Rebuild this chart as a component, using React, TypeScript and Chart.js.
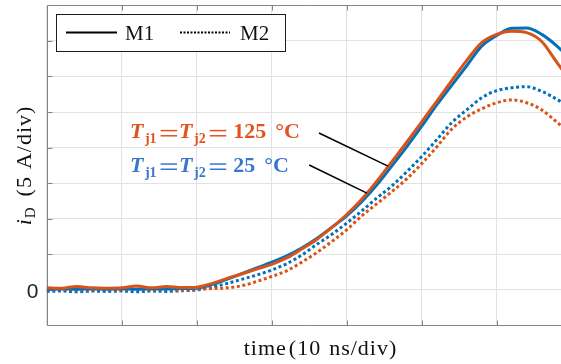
import { useEffect, useRef } from "react";
import { Chart, registerables } from "chart.js";

Chart.register(...registerables);

// time axis in divisions (10 ns/div)
const timeDiv = [
  0, 0.2, 0.4, 0.6, 0.8, 1.0, 1.2, 1.4, 1.6, 1.8, 2.0, 2.2, 2.4, 2.6, 2.8, 3.0, 3.2, 3.4,
  3.6, 3.8, 4.0, 4.2, 4.4, 4.6, 4.8, 5.0, 5.2, 5.4, 5.6, 5.8, 6.0, 6.2, 6.4, 6.6, 6.8, 7.0,
];

// drain current in divisions (5 A/div)
const m1At25 = [
  0.02, 0.03, 0.02, 0.03, 0.02, 0.03, 0.02, 0.03, 0.03, 0.04, 0.05, 0.15, 0.3, 0.46, 0.62, 0.78, 0.96, 1.18,
  1.45, 1.76, 2.08, 2.48, 2.95, 3.48, 4.02, 4.6, 5.2, 5.75, 6.3, 6.85, 7.15, 7.35, 7.36, 7.18, 6.86, 6.45,
];
const m1At125 = [
  0.06, 0.05, 0.1, 0.06, 0.05, 0.06, 0.11, 0.06, 0.1, 0.07, 0.08, 0.18, 0.32, 0.45, 0.59, 0.72, 0.9, 1.15,
  1.42, 1.75, 2.12, 2.55, 3.05, 3.6, 4.15, 4.72, 5.3, 5.88, 6.45, 6.95, 7.18, 7.27, 7.23, 6.98, 6.4, 5.82,
];
const m2At25 = [
  -0.04, -0.03, -0.05, -0.03, -0.04, -0.03, -0.05, -0.03, -0.04, -0.02, 0.0, 0.08, 0.18, 0.3, 0.42, 0.56, 0.74, 0.98,
  1.28, 1.56, 1.88, 2.22, 2.58, 2.92, 3.32, 3.75, 4.22, 4.7, 5.06, 5.4, 5.6, 5.68, 5.71, 5.58, 5.36, 5.1,
];
const m2At125 = [
  0.0, 0.02, 0.0, 0.01, 0.02, 0.0, 0.02, 0.01, 0.02, 0.0, 0.02, 0.04, 0.06, 0.12, 0.24, 0.38, 0.54, 0.78,
  1.05, 1.36, 1.69, 2.08, 2.42, 2.76, 3.12, 3.55, 4.02, 4.52, 4.86, 5.09, 5.26, 5.34, 5.26, 5.06, 4.72, 4.36,
];

const yTickLabels = ["0"];
const legendLabels = ["M1", "M2"];
const junctionTemps = [125, 25];

// annotation leaders in data units: [labelEnd t, labelEnd i, curve t, curve i]
const leader125 = [3.63, 4.41, 4.55, 3.48];
const leader25 = [3.5, 3.51, 4.27, 2.72];

const BLUE = "#0072BD";
const ORANGE = "#D95319";
const BLUE_TEXT = "#3a76cf";
const ORANGE_TEXT = "#e2521d";
const SERIF = "'Liberation Serif', 'Times New Roman', serif";

const toPoints = (ys: number[]) => ys.map((y, i) => ({ x: timeDiv[i], y }));

function drawTempLabel(ctx: CanvasRenderingContext2D, x0: number, base: number, color: string, temp: number) {
  ctx.fillStyle = color;
  ctx.textBaseline = "alphabetic";
  ctx.textAlign = "left";
  let x = x0;
  const T = () => {
    ctx.font = `italic bold 22px ${SERIF}`;
    ctx.fillText("T", x, base);
    x += 15;
  };
  const sub = (s: string) => {
    ctx.font = `bold 14px ${SERIF}`;
    ctx.fillText(s, x, base + 5);
    x += ctx.measureText(s).width + 4;
  };
  const eq = () => {
    ctx.fillRect(x, base - 8.5, 16.5, 1.5);
    ctx.fillRect(x, base - 3.3, 16.5, 1.5);
    x += 18.5;
  };
  T();
  sub("j1");
  eq();
  T();
  sub("j2");
  eq();
  x += 5;
  ctx.font = `bold 22px ${SERIF}`;
  const num = String(temp);
  ctx.fillText(num, x, base);
  x += ctx.measureText(num).width + 9;
  ctx.fillText("°C", x, base);
}

const decor = {
  id: "decor",
  beforeDatasetsDraw(chart: any) {
    const { ctx, chartArea: a, scales } = chart;
    const xs = scales.x;
    const ys = scales.y;
    ctx.save();
    ctx.strokeStyle = "#858585";
    ctx.lineWidth = 1;
    const L = Math.round(a.left) + 0.5;
    const B = Math.round(a.bottom) - 0.5;
    const Tp = Math.round(a.top) + 0.5;
    ctx.beginPath();
    ctx.moveTo(L, Tp);
    ctx.lineTo(L, B);
    ctx.lineTo(a.right, B);
    ctx.moveTo(L, Tp);
    ctx.lineTo(a.right, Tp);
    // inward tick marks
    for (let v = ys.min + 1; v < ys.max; v++) {
      const py = Math.round(ys.getPixelForValue(v)) + 0.5;
      ctx.moveTo(L, py);
      ctx.lineTo(L + 5, py);
    }
    for (let v = xs.min + 1; v < xs.max; v++) {
      const px = Math.round(xs.getPixelForValue(v)) + 0.5;
      ctx.moveTo(px, Tp);
      ctx.lineTo(px, Tp + 5);
      ctx.moveTo(px, B);
      ctx.lineTo(px, B - 5);
    }
    ctx.stroke();
    ctx.restore();
  },
  afterDraw(chart: any) {
    const { ctx, scales } = chart;
    const xs = scales.x;
    const ys = scales.y;
    ctx.save();

    // y tick label
    ctx.fillStyle = "#262626";
    ctx.font = "21px 'Liberation Sans', Arial, sans-serif";
    ctx.textAlign = "right";
    ctx.textBaseline = "middle";
    ctx.fillText(yTickLabels[0], 38.5, ys.getPixelForValue(0) + 2);

    // x axis title
    ctx.fillStyle = "#111";
    ctx.textBaseline = "alphabetic";
    ctx.textAlign = "left";
    ctx.font = `22px ${SERIF}`;
    (ctx as any).letterSpacing = "1px";
    const p1 = "time";
    const p2 = "(10";
    const p3 = "ns/div)";
    const w1 = ctx.measureText(p1).width;
    const w2 = ctx.measureText(p2).width;
    const w3 = ctx.measureText(p3).width;
    const gap = 8;
    const total = w1 + 2 + w2 + gap + w3;
    let tx = 320.5 - total / 2;
    ctx.fillText(p1, tx, 355);
    tx += w1 + 2;
    ctx.fillText(p2, tx, 355);
    tx += w2 + gap;
    ctx.fillText(p3, tx, 355);

    // y axis title (rotated)
    ctx.translate(31, 165.5);
    ctx.rotate(-Math.PI / 2);
    ctx.font = `italic 22px ${SERIF}`;
    const wi = ctx.measureText("i").width;
    ctx.font = `15px ${SERIF}`;
    const wd = ctx.measureText("D").width;
    ctx.font = `22px ${SERIF}`;
    const q1 = "(5";
    const q2 = "A/div)";
    const wq1 = ctx.measureText(q1).width;
    const wq2 = ctx.measureText(q2).width;
    const ytot = wi + wd + 10 + wq1 + 7 + wq2;
    let ty = -ytot / 2;
    ctx.font = `italic 22px ${SERIF}`;
    ctx.fillText("i", ty, 0);
    ty += wi;
    ctx.font = `15px ${SERIF}`;
    ctx.fillText("D", ty, 4);
    ty += wd + 10;
    ctx.font = `22px ${SERIF}`;
    ctx.fillText(q1, ty, 0);
    ty += wq1 + 7;
    ctx.fillText(q2, ty, 0);
    ctx.setTransform(1, 0, 0, 1, 0, 0);
    (ctx as any).letterSpacing = "0px";

    // legend
    ctx.fillStyle = "#fff";
    ctx.fillRect(56, 14.5, 229.5, 37);
    ctx.strokeStyle = "#1a1a1a";
    ctx.lineWidth = 1;
    ctx.strokeRect(56.5, 14.5, 229, 37);
    ctx.strokeStyle = "#000";
    ctx.lineWidth = 2;
    ctx.beginPath();
    ctx.moveTo(66, 32.5);
    ctx.lineTo(117, 32.5);
    ctx.stroke();
    ctx.setLineDash([2, 1.5]);
    ctx.beginPath();
    ctx.moveTo(180, 32.5);
    ctx.lineTo(230, 32.5);
    ctx.stroke();
    ctx.setLineDash([]);
    ctx.fillStyle = "#111";
    ctx.font = `21px ${SERIF}`;
    ctx.textAlign = "left";
    ctx.fillText(legendLabels[0], 125, 40);
    ctx.fillText(legendLabels[1], 240, 40);

    // annotation leaders
    ctx.strokeStyle = "#000";
    ctx.lineWidth = 1.5;
    for (const ld of [leader125, leader25]) {
      ctx.beginPath();
      ctx.moveTo(xs.getPixelForValue(ld[0]), ys.getPixelForValue(ld[1]));
      ctx.lineTo(xs.getPixelForValue(ld[2]), ys.getPixelForValue(ld[3]));
      ctx.stroke();
    }

    // annotation labels
    drawTempLabel(ctx, xs.getPixelForValue(1.11), ys.getPixelForValue(4.26), ORANGE_TEXT, junctionTemps[0]);
    drawTempLabel(ctx, xs.getPixelForValue(1.11), ys.getPixelForValue(3.32), BLUE_TEXT, junctionTemps[1]);

    ctx.restore();
  },
};

export default function App() {
  const canvasRef = useRef<HTMLCanvasElement | null>(null);

  useEffect(() => {
    const canvas = canvasRef.current;
    if (!canvas) return;
    const solid = { borderWidth: 3, pointRadius: 0, cubicInterpolationMode: "monotone" as const, fill: false };
    const dotted = { ...solid, borderDash: [3, 2.6], borderCapStyle: "butt" as const };
    const chart = new Chart(canvas, {
      type: "line",
      data: {
        datasets: [
          { label: "M1 125", data: toPoints(m1At125), borderColor: ORANGE, ...solid },
          { label: "M1 25", data: toPoints(m1At25), borderColor: BLUE, ...solid },
          { label: "M2 125", data: toPoints(m2At125), borderColor: ORANGE, ...dotted },
          { label: "M2 25", data: toPoints(m2At25), borderColor: BLUE, ...dotted },
        ],
      },
      options: {
        responsive: false,
        devicePixelRatio: 1,
        animation: false,
        layout: { padding: { left: 46.7, top: 5.2, right: 28.3, bottom: 38.4 } },
        plugins: { legend: { display: false }, tooltip: { enabled: false } },
        scales: {
          x: {
            type: "linear",
            min: 0,
            max: 7,
            ticks: { display: false, stepSize: 1 },
            grid: { color: "#e2e2e2", lineWidth: 1, drawTicks: false },
            border: { display: false },
          },
          y: {
            type: "linear",
            min: -1,
            max: 8,
            ticks: { display: false, stepSize: 1 },
            grid: { color: "#e2e2e2", lineWidth: 1, drawTicks: false },
            border: { display: false },
          },
        },
      },
      plugins: [decor],
    });
    return () => chart.destroy();
  }, []);

  return (
    <div
      style={{
        position: "fixed",
        left: 0,
        top: 0,
        width: 561,
        height: 364,
        overflow: "hidden",
        background: "#fff",
      }}
    >
      <canvas ref={canvasRef} width={600} height={364} style={{ display: "block", width: 600, height: 364 }} />
    </div>
  );
}
